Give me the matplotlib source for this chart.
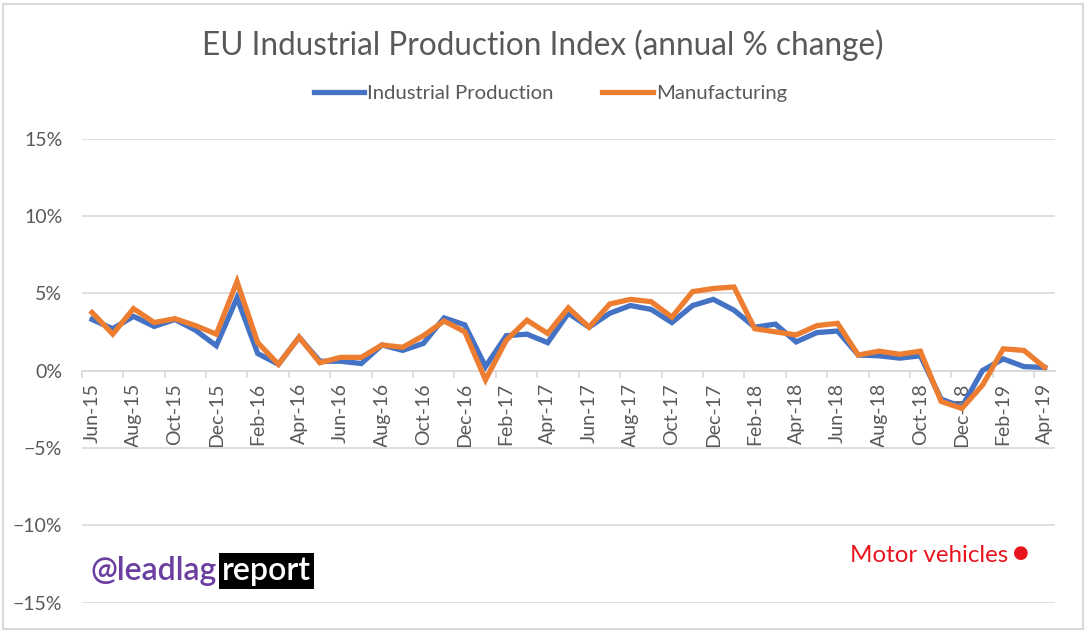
import matplotlib
matplotlib.use("Agg")
import matplotlib.pyplot as plt
from matplotlib.ticker import FixedLocator, PercentFormatter
from matplotlib.patches import Rectangle

months = ["Jun-15", "Jul-15", "Aug-15", "Sep-15", "Oct-15", "Nov-15", "Dec-15",
          "Jan-16", "Feb-16", "Mar-16", "Apr-16", "May-16", "Jun-16", "Jul-16",
          "Aug-16", "Sep-16", "Oct-16", "Nov-16", "Dec-16", "Jan-17", "Feb-17",
          "Mar-17", "Apr-17", "May-17", "Jun-17", "Jul-17", "Aug-17", "Sep-17",
          "Oct-17", "Nov-17", "Dec-17", "Jan-18", "Feb-18", "Mar-18", "Apr-18",
          "May-18", "Jun-18", "Jul-18", "Aug-18", "Sep-18", "Oct-18", "Nov-18",
          "Dec-18", "Jan-19", "Feb-19", "Mar-19", "Apr-19"]

industrial = [3.3, 2.7, 3.5, 2.85, 3.3, 2.6, 1.6, 4.7, 1.1, 0.4, 2.15, 0.6,
              0.6, 0.45, 1.65, 1.3, 1.75, 3.4, 2.95, 0.25, 2.25, 2.35, 1.8,
              3.7, 2.8, 3.7, 4.2, 3.95, 3.1, 4.2, 4.6, 3.9, 2.8, 3.0, 1.85,
              2.45, 2.55, 1.0, 0.95, 0.8, 0.95, -1.85, -2.35, 0.0, 0.75, 0.25, 0.2]

manufacturing = [3.75, 2.35, 4.0, 3.1, 3.35, 2.9, 2.35, 5.75, 1.8, 0.4, 2.15, 0.5,
                 0.85, 0.85, 1.65, 1.5, 2.25, 3.2, 2.5, -0.6, 1.95, 3.25, 2.4,
                 4.05, 2.8, 4.3, 4.6, 4.45, 3.45, 5.1, 5.3, 5.4, 2.7, 2.5, 2.3,
                 2.9, 3.05, 1.0, 1.25, 1.05, 1.25, -2.0, -2.45, -0.95, 1.4, 1.3, 0.2]

yticks = [-15, -10, -5, 0, 5, 10, 15]

FONT = ["Lato", "DejaVu Sans"]
GRAY = "#595959"
GRID = "#d9d9d9"

fig = plt.figure(figsize=(10.9, 6.36), dpi=100)
ax = fig.add_axes([81.7 / 1090, 1 - 602.5 / 636, (1055 - 81.7) / 1090, (602.5 - 138.5) / 636])

x = list(range(len(months)))
ax.plot(x, industrial, color="#4472C4", lw=3.8, solid_joinstyle="miter", label="Industrial Production", zorder=3)
ax.plot(x, manufacturing, color="#ED7D31", lw=3.8, solid_joinstyle="miter", label="Manufacturing", zorder=4)

ax.set_xlim(-0.5, len(months) - 0.5)
ax.set_ylim(-15, 15)
ax.set_yticks(yticks)
ax.yaxis.set_major_formatter(PercentFormatter(decimals=0))
ax.grid(axis="y", color=GRID, lw=1.2)
ax.set_axisbelow(True)

for s in ["top", "right", "left"]:
    ax.spines[s].set_visible(False)
ax.spines["bottom"].set_position(("data", 0))
ax.spines["bottom"].set_color(GRID)
ax.spines["bottom"].set_linewidth(1.2)

ax.set_xticks(x[::2])
ax.set_xticklabels(months[::2], rotation=90, fontsize=14, color=GRAY, family=FONT)
ax.xaxis.set_minor_locator(FixedLocator([i - 0.5 for i in range(0, len(months) + 1, 2)]))
ax.tick_params(axis="x", which="major", length=0, pad=9)
ax.tick_params(axis="x", which="minor", length=5, color=GRID, width=1.2)
ax.tick_params(axis="y", length=0, pad=14, labelsize=14, labelcolor=GRAY)
for lbl in ax.get_yticklabels():
    lbl.set_family(FONT)

fig.text(0.4975, 1 - 45 / 636, "EU Industrial Production Index (annual % change)",
         ha="center", va="center", fontsize=22.7, color=GRAY, family=FONT)

leg = fig.legend(loc="center", bbox_to_anchor=(0.505, 1 - 93 / 636), ncol=2, frameon=False,
                 prop={"family": FONT, "size": 14.6}, handlelength=2.5, columnspacing=2.4,
                 handletextpad=0.15, labelcolor=GRAY)

# watermark
fig.text(217 / 1090, 1 - 571 / 636, "@leadlag", ha="right", va="center", fontsize=23,
         color="#6b3fa0", family=FONT, fontweight="semibold")
fig.text(222 / 1090, 1 - 571 / 636, "report", ha="left", va="center", fontsize=23,
         color="white", family=FONT, fontweight="semibold",
         bbox=dict(boxstyle="square,pad=0.1", fc="black", ec="none"))

fig.text(850 / 1090, 1 - 555 / 636, "Motor vehicles", ha="left", va="center",
         fontsize=17.4, color="#e8141e", family=FONT)
fig.text(1021 / 1090, 1 - 553 / 636, "\u25cf", ha="center", va="center",
         fontsize=13, color="#e8141e", family="DejaVu Sans")

fig.patches.append(Rectangle((3 / 1090, 1 - 629 / 636), 1080 / 1090, 625 / 636,
                             transform=fig.transFigure, fill=False, ec=GRID, lw=1.5))

fig.savefig("out.png", dpi=100)
